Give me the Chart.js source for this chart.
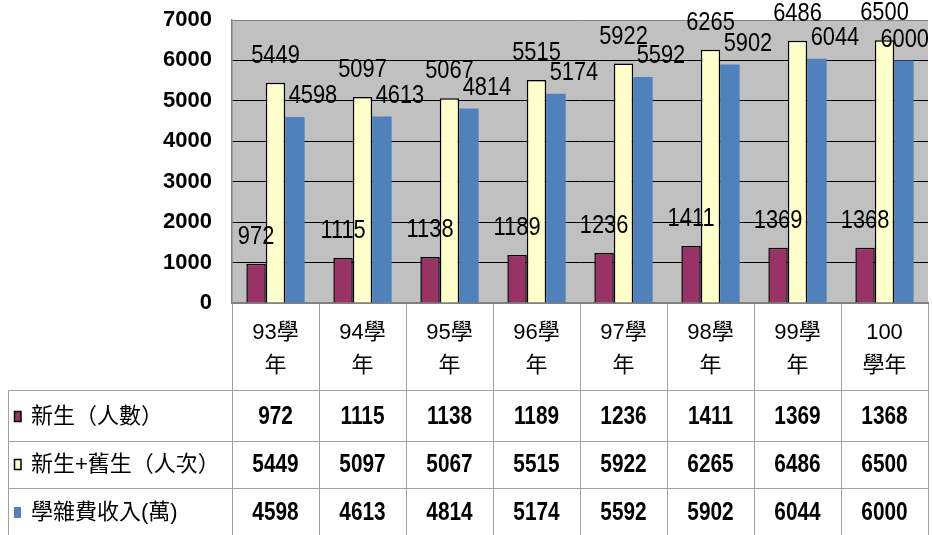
<!DOCTYPE html>
<html>
<head>
<meta charset="utf-8">
<script src="https://cdn.jsdelivr.net/npm/chart.js@4/dist/chart.umd.min.js"></script>
<style>
body { margin: 0; background: #fff; }
#wrap { width: 932px; height: 535px; position: relative; }
</style>
</head>
<body>
<div id="wrap"><canvas id="feeChart"></canvas></div>
<script>
'use strict';
// data
let categories = [['93學','年'], ['94學','年'], ['95學','年'], ['96學','年'], ['97學','年'], ['98學','年'], ['99學','年'], ['100','學年']];
let seriesNames = ['新生（人數）', '新生+舊生（人次）', '學雜費收入(萬)'];
let newStudents = [972, 1115, 1138, 1189, 1236, 1411, 1369, 1368];
let allStudents = [5449, 5097, 5067, 5515, 5922, 6265, 6486, 6500];
let feeIncome = [4598, 4613, 4814, 5174, 5592, 5902, 6044, 6000];
let yTicks = [0, 1000, 2000, 3000, 4000, 5000, 6000, 7000];

let numFont = "'Liberation Sans', Arial, sans-serif";
let cjkFont = "'Liberation Sans', 'Noto Sans CJK TC', sans-serif";

// narrow-looking digits: squeeze the text a bit sideways
function narrowText(ctx, txt, x, y, sx) {
  ctx.save();
  ctx.translate(x, y);
  ctx.scale(sx, 1);
  ctx.fillText(txt, 0, 0);
  ctx.restore();
}

// grey plot background
let plotBg = {
  id: 'plotBg',
  beforeDraw(chart) {
    let a = chart.chartArea, ctx = chart.ctx;
    ctx.save();
    ctx.fillStyle = '#c0c0c0';
    ctx.fillRect(a.left, a.top, a.right - a.left, a.bottom - a.top);
    ctx.restore();
  }
};

// value labels over the bars
let barLabels = {
  id: 'barLabels',
  afterDatasetsDraw(chart) {
    let ctx = chart.ctx;
    ctx.save();
    ctx.font = '26px ' + numFont;
    ctx.fillStyle = '#000';
    ctx.textAlign = 'center';
    ctx.textBaseline = 'middle';
    chart.data.datasets.forEach((ds, d) => {
      let meta = chart.getDatasetMeta(d);
      meta.data.forEach((bar, i) => {
        let txt = String(ds.data[i]);
        let w = ctx.measureText(txt).width * 0.84;
        let x = bar.x + (ds.labelDx || 0);
        x = Math.min(x, chart.width - w / 2 - 3);
        narrowText(ctx, txt, x, bar.y - (ds.labelDy || 27), 0.84);
      });
    });
    ctx.restore();
  }
};

// data table under the chart
let dataTable = {
  id: 'dataTable',
  afterDraw(chart) {
    let ctx = chart.ctx, a = chart.chartArea, xs = chart.scales.x;
    let n = categories.length;
    let cw = (a.right - a.left) / n;
    let rowLines = [390.5, 441.5, 488.5];
    let rowMid = [417, 465, 513];
    let tableLeft = 8.5;
    ctx.save();
    ctx.strokeStyle = '#a0a0a0';
    ctx.lineWidth = 1;
    ctx.beginPath();
    for (let i = 0; i <= n; i++) {
      let x = Math.round(a.left + i * cw) + 0.5;
      ctx.moveTo(x, a.bottom + 1);
      ctx.lineTo(x, chart.height);
    }
    rowLines.forEach(y => { ctx.moveTo(tableLeft, y); ctx.lineTo(a.right, y); });
    ctx.moveTo(tableLeft, rowLines[0]);
    ctx.lineTo(tableLeft, chart.height);
    ctx.stroke();

    chart.data.datasets.forEach((ds, d) => {
      let y = rowMid[d];
      // legend key
      ctx.fillStyle = ds.backgroundColor;
      ctx.fillRect(14, y - 6, 7, 11);
      if (ds.borderWidth) {
        ctx.strokeStyle = '#000';
        ctx.lineWidth = 1.5;
        ctx.strokeRect(14.5, y - 5.5, 6.5, 10);
      }
      ctx.fillStyle = '#000';
      ctx.textAlign = 'left';
      ctx.textBaseline = 'middle';
      ctx.font = '22px ' + cjkFont;
      ctx.fillText(seriesNames[d], 31, y);
      ctx.textAlign = 'center';
      ctx.font = 'bold 26px ' + numFont;
      ds.data.forEach((v, i) => {
        narrowText(ctx, String(v), xs.getPixelForValue(i), y, 0.8);
      });
    });
    ctx.restore();
  }
};

new Chart(document.getElementById('feeChart'), {
  type: 'bar',
  data: {
    labels: categories,
    datasets: [{
      label: seriesNames[0],
      data: newStudents,
      backgroundColor: '#993366',
      borderColor: '#000',
      borderWidth: 1.5,
      labelDy: 27
    }, {
      label: seriesNames[1],
      data: allStudents,
      backgroundColor: '#ffffcc',
      borderColor: '#000',
      borderWidth: 1.5,
      labelDy: 27
    }, {
      label: seriesNames[2],
      data: feeIncome,
      backgroundColor: '#4f81bd',
      borderWidth: 0,
      labelDx: 18,
      labelDy: 21
    }]
  },
  options: {
    responsive: true,
    maintainAspectRatio: false,
    animation: false,
    layout: { padding: { top: 20, right: 4, left: 0, bottom: 0 } },
    plugins: { legend: { display: false }, tooltip: { enabled: false } },
    datasets: { bar: { categoryPercentage: 0.67, barPercentage: 1 } },
    scales: {
      x: {
        grid: { display: false },
        border: { display: true, color: '#808080', width: 2 },
        ticks: {
          color: '#000',
          font: { family: cjkFont, size: 22, lineHeight: 1.5 },
          padding: 5,
          maxRotation: 0
        },
        afterFit(s) { s.height = 232; s.paddingLeft = 0; s.paddingRight = 0; }
      },
      y: {
        min: 0,
        max: 7000,
        afterBuildTicks(s) { s.ticks = yTicks.map(v => ({ value: v })); },
        grid: {
          color: c => c.tick && c.tick.value === 7000 ? '#808080' : '#000',
          lineWidth: 1,
          drawTicks: false
        },
        border: { display: true, color: '#808080', width: 1.5 },
        ticks: {
          color: '#000',
          padding: 20,
          font: { family: numFont, size: 22, weight: 'bold' },
          callback: v => String(v)
        },
        afterFit(s) { s.width = 232; s.paddingTop = 0; s.paddingBottom = 0; }
      }
    }
  },
  plugins: [plotBg, barLabels, dataTable]
});
</script>
</body>
</html>
